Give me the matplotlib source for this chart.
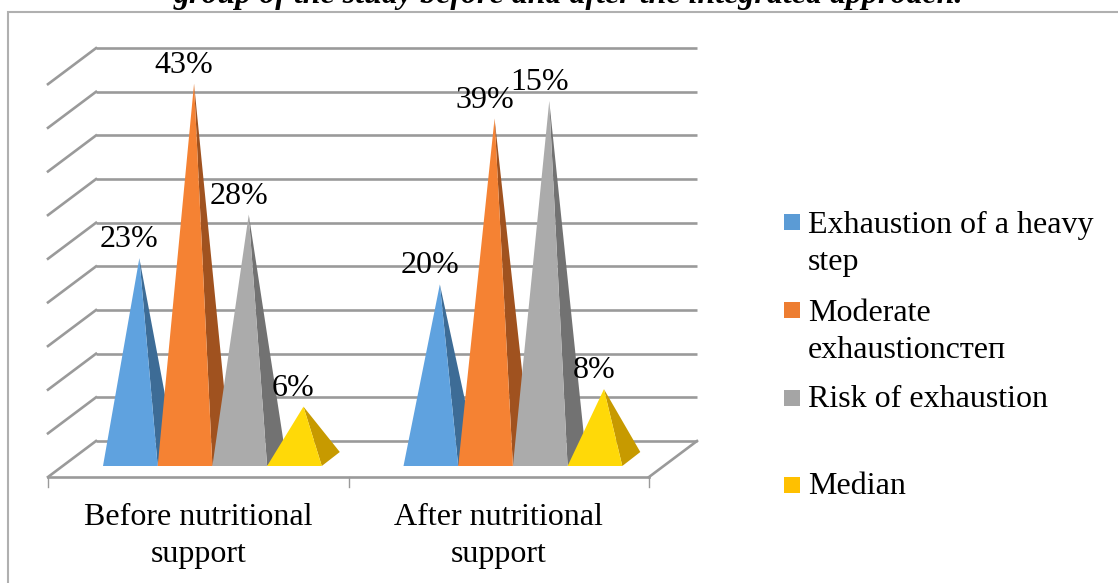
import matplotlib
matplotlib.use("Agg")
import matplotlib.pyplot as plt
from matplotlib.patches import Polygon, Rectangle

plt.rcParams['font.family'] = ['Liberation Serif', 'DejaVu Serif']

# ---- data ----
categories = ["Before nutritional\nsupport", "After nutritional\nsupport"]
series_names = ["Exhaustion of a heavy\nstep", "Moderate\nexhaustionстеп",
                "Risk of exhaustion", "Median"]
heavy = [23, 20]
moderate = [43, 39]
risk = [28, 41]
median = [6, 8]
heavy_labels = ["23%", "20%"]
moderate_labels = ["43%", "39%"]
risk_labels = ["28%", "15%"]
median_labels = ["6%", "8%"]
y_ticks = [0, 5, 10, 15, 20, 25, 30, 35, 40, 45]

front_colors = ["#5FA2DF", "#F58233", "#ABABAB", "#FFD908"]
side_colors = ["#3D6C96", "#A0521F", "#727272", "#C79A00"]
legend_colors = ["#5B9BD5", "#ED7D31", "#A5A5A5", "#FFC000"]
grid_color = "#9A9A9A"

W, H = 1118, 583
FS = 23
LS = 1.37
fig = plt.figure(figsize=(W / 100, H / 100), dpi=100, facecolor="white")
ax = fig.add_axes([0, 0, 1, 1])
ax.axis("off")

# data space: x in categories, y in percent, front floor corner at (0, 0)
PX_X0, PX_Y0 = 48.0, 477.0
PX_PER_CAT, PX_PER_PCT = 300.5, 8.73
ax.set_xlim(-PX_X0 / PX_PER_CAT, (W - PX_X0) / PX_PER_CAT)
ax.set_ylim((PX_Y0 - H) / PX_PER_PCT, PX_Y0 / PX_PER_PCT)

depth_x = 48 / PX_PER_CAT
depth_y = 36 / PX_PER_PCT
px_x = 1 / PX_PER_CAT
px_y = 1 / PX_PER_PCT
n_cat = len(categories)

# chart frame (its right and bottom edges lie outside the picture)
ax.add_patch(Rectangle((-PX_X0 * px_x + 8 * px_x, (PX_Y0 - 590) * px_y),
                       1120 * px_x, 578 * px_y, fill=False,
                       ec="#B0B0B0", lw=1.5, zorder=1, clip_on=False))

# walls
for t in y_ticks:
    y = t + depth_y
    ax.plot([depth_x, n_cat + depth_x], [y, y], color=grid_color, lw=1.9, zorder=2,
            solid_capstyle="butt")
    ax.plot([0, depth_x], [t, y], color=grid_color, lw=1.9, zorder=2)
ax.plot([0, n_cat], [0, 0], color=grid_color, lw=1.9, zorder=2)
ax.plot([n_cat, n_cat + depth_x], [0, depth_y], color=grid_color, lw=1.9, zorder=2)
for i in range(n_cat + 1):
    ax.plot([i, i], [0, -10 * px_y], color=grid_color, lw=1.0, zorder=2)

# pyramids
series = [heavy, moderate, risk, median]
labels = [heavy_labels, moderate_labels, risk_labels, median_labels]
bar_w = 54.7 * px_x
start = 55 * px_x
base_y = 11 * px_y
pdx, pdy = 18 * px_x, 14 * px_y
for s, (vals, labs) in enumerate(zip(series, labels)):
    for c, (v, lab) in enumerate(zip(vals, labs)):
        x0 = c + start + s * bar_w
        x1 = x0 + bar_w
        cx = x0 + bar_w / 2 + pdx / 2
        cy = base_y + pdy / 2
        apex = (cx, cy + v)
        ax.add_patch(Polygon([(x1, base_y), (x1 + pdx, base_y + pdy), apex],
                             fc=side_colors[s], ec="none", zorder=3 + s))
        ax.add_patch(Polygon([(x0, base_y), (x1, base_y), apex],
                             fc=front_colors[s], ec="none", zorder=3 + s))
        ax.text(cx - 10 * px_x, cy + v + 11 * px_y, lab, ha="center", va="baseline",
                fontsize=FS, color="black", zorder=10)

# category labels
for c, name in enumerate(categories):
    ax.text(c + 0.5, (PX_Y0 - 562) * px_y, name, ha="center", va="baseline", fontsize=FS,
            color="black", linespacing=LS, zorder=10)

# legend
marker_centers = [222, 309.5, 397.5, 484.5]
text_baselines = [270, 358, 407, 494]
for name, col, yc, yb in zip(series_names, legend_colors, marker_centers, text_baselines):
    x_m = (784 - PX_X0) * px_x
    y_m = (PX_Y0 - yc) * px_y
    ax.add_patch(Rectangle((x_m, y_m - 8 * px_y), 16 * px_x, 16 * px_y, fc=col, ec="none", zorder=5))
    ax.text((808 - PX_X0) * px_x, (PX_Y0 - yb) * px_y, name, ha="left", va="baseline",
            fontsize=FS, color="black", linespacing=LS, zorder=10)

# title, cut by the top of the picture as in the reference
ax.text((568 - PX_X0) * px_x, (PX_Y0 - 3) * px_y,
        "group of the study before and after the integrated approach.",
        ha="center", va="baseline", fontsize=FS, fontweight="bold", fontstyle="italic",
        color="black", zorder=10)

fig.savefig("out.png", dpi=100, facecolor="white")
